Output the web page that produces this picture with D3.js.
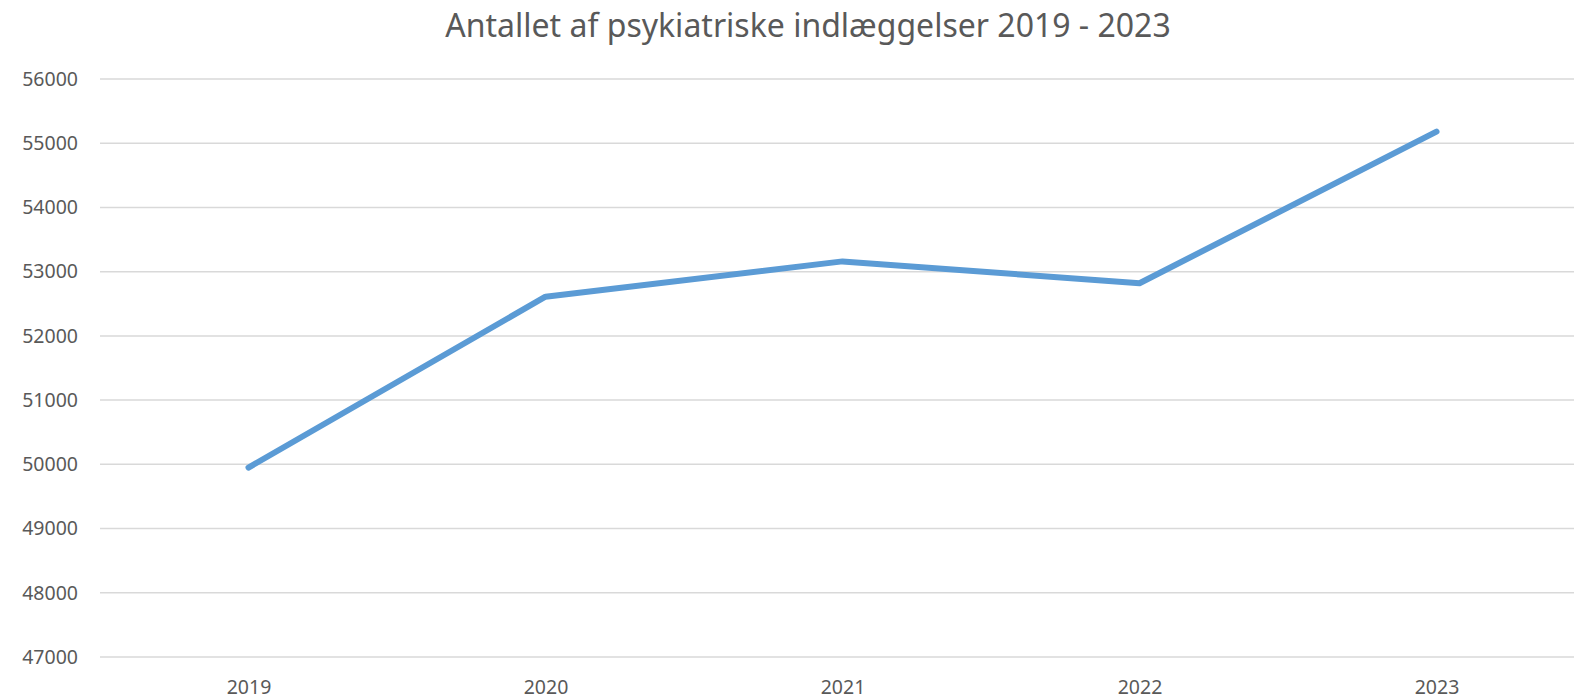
<!DOCTYPE html>
<html>
<head>
<meta charset="utf-8">
<script src="https://cdn.jsdelivr.net/npm/d3@7"></script>
<style>
  html, body { margin: 0; padding: 0; background: #fff; overflow: hidden; }
</style>
</head>
<body>
<div id="chart"></div>
<script>
// data
const years = ['2019', '2020', '2021', '2022', '2023'];
const admissions = [49950, 52610, 53160, 52820, 55180];
const yTicks = [47000, 48000, 49000, 50000, 51000, 52000, 53000, 54000, 55000, 56000];
const title = 'Antallet af psykiatriske indlæggelser 2019 - 2023';

const width = 1574;
const height = 699;

const svg = d3.select('#chart')
    .append('svg')
    .attr('width', width)
    .attr('height', height);

// plot area
const margin = { top: 79, right: -11, bottom: 42, left: 100 };
const graphWidth = width - margin.left - margin.right;
const graphHeight = height - margin.top - margin.bottom;

const graph = svg.append('g')
    .attr('transform', `translate(${ margin.left }, ${ margin.top })`);

// scales
const x = d3.scalePoint()
    .domain(years)
    .range([0, graphWidth])
    .padding(0.5);

const y = d3.scaleLinear()
    .domain([47000, 56000])
    .range([graphHeight, 0]);

// gridlines
graph.append('g')
    .selectAll('line')
    .data(yTicks)
    .enter()
    .append('line')
    .attr('x1', 0)
    .attr('x2', graphWidth)
    .attr('y1', d => y(d))
    .attr('y2', d => y(d))
    .attr('stroke', '#d9d9d9')
    .attr('stroke-width', 1.5);

// y axis
const yAxisGroup = graph.append('g')
    .call(d3.axisLeft(y).tickValues(yTicks).tickSize(0).tickPadding(22).tickFormat(d3.format('d')));
yAxisGroup.select('path.domain').remove();
yAxisGroup.selectAll('text')
    .attr('fill', '#595959')
    .style('font-family', '"Noto Sans", sans-serif')
    .style('font-size', '19.5px');

// x axis
const xAxisGroup = graph.append('g')
    .attr('transform', `translate(0, ${ graphHeight })`)
    .call(d3.axisBottom(x).tickSize(0).tickPadding(23));
xAxisGroup.select('path.domain').remove();
xAxisGroup.selectAll('text')
    .attr('fill', '#595959')
    .style('font-family', '"Noto Sans", sans-serif')
    .style('font-size', '19.5px');

// line
const line = d3.line()
    .x((d, i) => x(years[i]))
    .y(d => y(d));

graph.append('path')
    .datum(admissions)
    .attr('d', line)
    .attr('fill', 'none')
    .attr('stroke', '#5b9bd5')
    .attr('stroke-width', 6)
    .attr('stroke-linecap', 'round')
    .attr('stroke-linejoin', 'round');

// title
svg.append('text')
    .attr('x', 808)
    .attr('y', 37)
    .attr('text-anchor', 'middle')
    .attr('fill', '#595959')
    .style('font-family', '"Liberation Sans Narrow", "Noto Sans", sans-serif')
    .style('font-size', '32px')
    .text(title);
</script>
</body>
</html>
